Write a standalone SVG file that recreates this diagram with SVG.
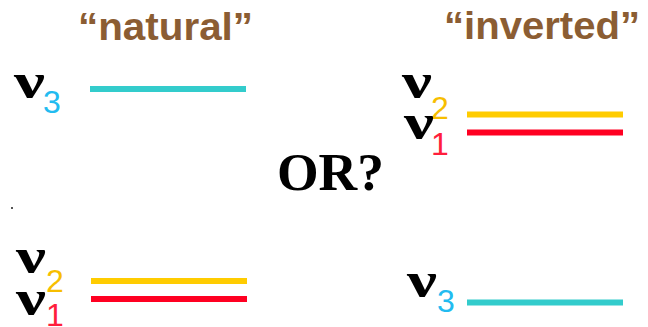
<svg xmlns="http://www.w3.org/2000/svg" width="648" height="327" viewBox="0 0 648 327">
<style>
.title{font-family:"Liberation Sans",Arial,sans-serif;font-weight:bold;font-size:38px;fill:#8B5D33}
.nu{font-family:"Liberation Serif","Times New Roman",serif;font-weight:bold;font-size:50px;fill:#000}
.sub{font-family:"Liberation Sans",Arial,sans-serif;font-size:32px}
.s3{fill:#22BBF0}.s2{fill:#F7BE00}.s1{fill:#FF1E3C}
.or{font-family:"Liberation Serif","Times New Roman",serif;font-weight:bold;font-size:52px;fill:#000}
.lvl{stroke-width:6;fill:none}
.cy{stroke:#33CCCC}.ye{stroke:#FFCC00}.rd{stroke:#FF0022}
</style>
<rect width="648" height="327" fill="#fff"/>
<g id="title-natural"><text class="title" x="78" y="40" textLength="175" lengthAdjust="spacingAndGlyphs">“natural”</text></g>
<g id="title-inverted"><text class="title" x="444" y="39" textLength="196" lengthAdjust="spacingAndGlyphs">“inverted”</text></g>
<g id="or"><text class="or" x="277" y="190" textLength="107" lengthAdjust="spacingAndGlyphs">OR?</text></g>
<g id="levels">
<g id="natural-nu3"><text class="nu" x="14" y="98" textLength="31" lengthAdjust="spacingAndGlyphs">ν</text><text class="sub s3" x="43" y="113">3</text><line class="lvl cy" x1="90" y1="89" x2="246" y2="89"/></g>
<g id="natural-nu2"><text class="nu" x="16" y="273" textLength="30" lengthAdjust="spacingAndGlyphs">ν</text><text class="sub s2" x="46" y="292">2</text><line class="lvl ye" x1="91" y1="281" x2="247" y2="281"/></g>
<g id="natural-nu1"><text class="nu" x="16" y="315" textLength="30" lengthAdjust="spacingAndGlyphs">ν</text><text class="sub s1" x="46" y="326">1</text><line class="lvl rd" x1="91" y1="299" x2="247" y2="299"/></g>
<g id="inverted-nu2"><text class="nu" x="402" y="98" textLength="30" lengthAdjust="spacingAndGlyphs">ν</text><text class="sub s2" x="431" y="119">2</text><line class="lvl ye" x1="467" y1="114.5" x2="623" y2="114.5"/></g>
<g id="inverted-nu1"><text class="nu" x="404" y="139" textLength="30" lengthAdjust="spacingAndGlyphs">ν</text><text class="sub s1" x="431" y="155">1</text><line class="lvl rd" x1="467" y1="132.5" x2="623" y2="132.5"/></g>
<g id="inverted-nu3"><text class="nu" x="407" y="297" textLength="30" lengthAdjust="spacingAndGlyphs">ν</text><text class="sub s3" x="437" y="312">3</text><line class="lvl cy" x1="467" y1="302.5" x2="623" y2="302.5"/></g>
</g>
<rect x="11" y="207" width="2" height="2" fill="#555"/>
</svg>
